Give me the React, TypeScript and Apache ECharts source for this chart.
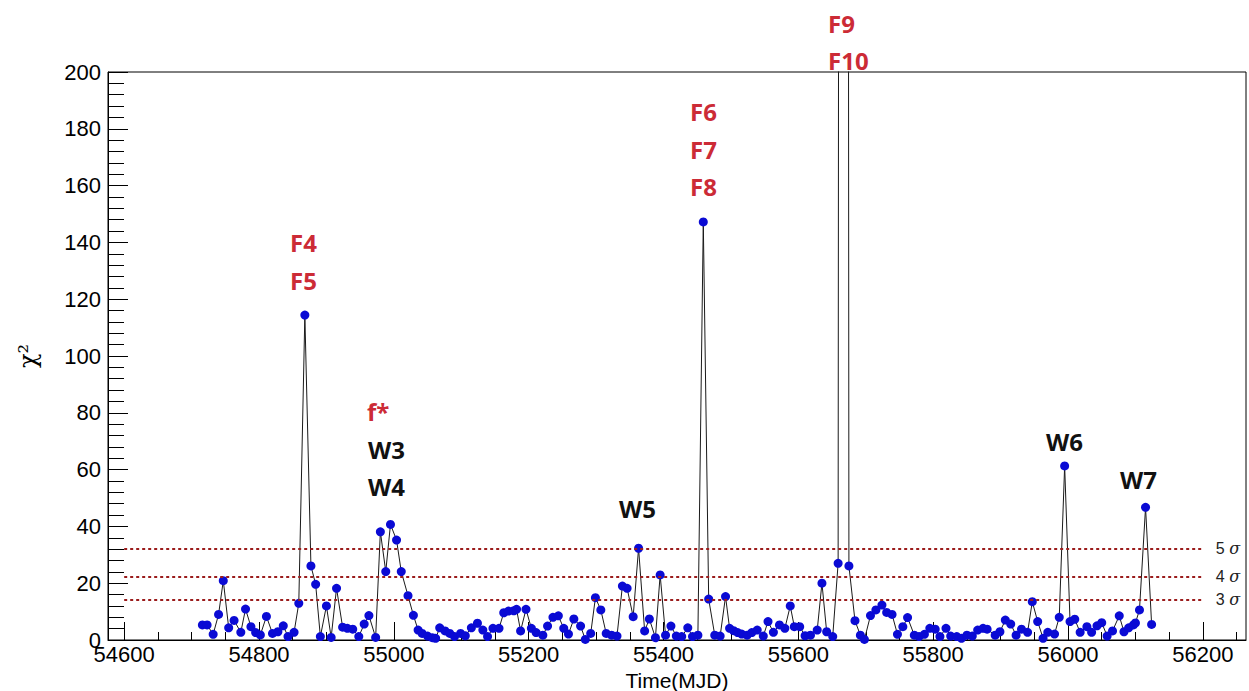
import React, { useEffect, useRef } from "react";
import * as echarts from "echarts";

// Time (MJD) of every point
const mjd = [
  54716, 54723, 54732, 54740, 54747, 54755, 54763, 54773, 54780, 54788,
  54795, 54802, 54811, 54820, 54828, 54836, 54843, 54852, 54859, 54868,
  54877, 54884, 54891, 54900, 54907, 54915, 54924, 54931, 54939, 54948,
  54956, 54963, 54973, 54980, 54988, 54995, 55004, 55011, 55021, 55029,
  55036, 55042, 55050, 55057, 55062, 55068, 55076, 55083, 55090, 55099,
  55106, 55115, 55124, 55132, 55139, 55147, 55156, 55163, 55170, 55178,
  55182, 55188, 55196, 55204, 55211, 55221, 55228, 55236, 55244, 55252,
  55259, 55267, 55277, 55284, 55292, 55299, 55307, 55315, 55323, 55331,
  55339, 55346, 55355, 55363, 55372, 55379, 55388, 55395, 55403, 55411,
  55419, 55427, 55436, 55443, 55451, 55459, 55467, 55476, 55484, 55492,
  55498, 55504, 55510, 55516, 55524, 55531, 55539, 55548, 55555, 55563,
  55572, 55580, 55588, 55594, 55602, 55610, 55618, 55628, 55635, 55642,
  55651, 55659, 55667, 55675, 55684, 55692, 55698, 55707, 55715, 55724,
  55731, 55739, 55747, 55755, 55762, 55772, 55779, 55787, 55795, 55803,
  55810, 55819, 55826, 55835, 55842, 55850, 55858, 55866, 55874, 55880,
  55892, 55899, 55907, 55915, 55923, 55931, 55940, 55947, 55955, 55963,
  55970, 55980, 55987, 55995, 56003, 56010, 56018, 56028, 56035, 56043,
  56050, 56058, 56066, 56076, 56083, 56090, 56097, 56100, 56106, 56115,
  56124,
];

// chi^2 value of every point
const chi2 = [
  5.3, 5.3, 2.0, 9.0, 20.9, 4.3, 6.9, 2.7, 10.9, 4.7,
  2.6, 1.8, 8.3, 2.3, 2.9, 5.0, 1.2, 2.7, 12.9, 114.4,
  26.1, 19.6, 1.2, 12.0, 0.9, 18.2, 4.5, 4.1, 3.8, 1.2,
  5.6, 8.6, 0.9, 38.1, 24.1, 40.7, 35.2, 24.1, 15.6, 8.7,
  3.5, 2.3, 1.4, 0.8, 0.6, 4.3, 3.2, 2.3, 1.2, 2.3,
  1.5, 4.3, 5.9, 3.5, 1.2, 4.1, 4.1, 9.6, 10.2, 10.3,
  10.8, 3.2, 10.8, 4.1, 2.6, 1.7, 4.9, 8.0, 8.5, 4.1,
  2.1, 7.4, 4.9, 0.2, 2.3, 14.9, 10.6, 2.3, 1.7, 1.4,
  19.0, 18.2, 8.2, 32.3, 3.2, 7.4, 0.8, 22.9, 1.7, 4.9,
  1.4, 1.2, 4.3, 1.2, 1.7, 147.2, 14.4, 1.7, 1.4, 15.3,
  4.1, 3.3, 2.6, 2.1, 1.7, 2.6, 3.5, 1.4, 6.5, 2.7,
  5.3, 4.1, 12.0, 4.7, 4.7, 1.5, 1.7, 3.5, 20.0, 2.9,
  1.2, 27.0, 2500, 26.1, 6.8, 1.7, 0.2, 8.6, 10.6, 12.3,
  9.7, 9.0, 2.0, 4.7, 7.9, 1.7, 1.2, 2.0, 4.1, 3.8,
  1.2, 4.1, 1.4, 1.2, 0.6, 1.7, 1.4, 3.5, 4.1, 3.8,
  1.7, 2.9, 7.0, 5.6, 1.7, 3.8, 2.7, 13.5, 6.5, 0.6,
  2.7, 2.1, 8.0, 61.3, 6.5, 7.3, 2.7, 4.7, 2.7, 5.0,
  6.1, 1.4, 3.2, 8.5, 2.9, 4.3, 5.3, 6.0, 10.6, 46.7,
  5.5,
];

// significance thresholds
const sigmaLevels = ["3", "4", "5"];
const sigmaValues = [14.2, 22.2, 32.1];

// x axis tick labels
const xTickLabels = [54600, 54800, 55000, 55200, 55400, 55600, 55800, 56000, 56200];

// flare / window annotations
const annoF4 = ["F4", "F5"];
const annoW3 = ["f*", "W3", "W4"];
const annoF6 = ["F6", "F7", "F8"];
const annoF9 = ["F9", "F10"];

const RED = "#cc2b36";
const BLACK = "#111111";

export default function App() {
  const ref = useRef<HTMLDivElement>(null);

  useEffect(() => {
    if (!ref.current) return;
    const chart = echarts.init(ref.current, undefined, { renderer: "svg" });

    const data = mjd.map((t, i) => [t, chi2[i]]);
    const minorX: number[] = [];
    for (let v = 54600; v <= 56250; v += 50) {
      if (v % 200 !== 0) minorX.push(v);
    }

    const annoFont = {
      fontFamily: "Open Sans",
      fontWeight: "bold" as const,
      fontSize: 24,
    };
    const txt = (text: string, x: number, y: number, color: string) => ({
      type: "text",
      x,
      y,
      z: 100,
      style: {
        text,
        fill: color,
        ...annoFont,
        align: "left",
        verticalAlign: "middle",
      },
    });

    const graphics = [
      txt(annoF4[0], 290, 242, RED),
      txt(annoF4[1], 290, 280, RED),
      txt(annoW3[0], 367, 411, RED),
      txt(annoW3[1], 368, 449, BLACK),
      txt(annoW3[2], 368, 486, BLACK),
      txt("W5", 619, 508, BLACK),
      txt(annoF6[0], 690, 111, RED),
      txt(annoF6[1], 690, 149, RED),
      txt(annoF6[2], 690, 186, RED),
      txt(annoF9[0], 828, 23, RED),
      txt(annoF9[1], 828, 60, RED),
      txt("W6", 1046, 441, BLACK),
      txt("W7", 1120, 479, BLACK),
    ];

    const markLineData = sigmaValues.map((v, i) => [
      { coord: [54600, v] },
      {
        coord: [56200, v],
        label: { formatter: sigmaLevels[i] + " {s|σ}" },
      },
    ]);

    chart.setOption({
      animation: false,
      backgroundColor: "#ffffff",
      grid: {
        left: 108,
        right: 3,
        top: 72,
        bottom: 51,
        containLabel: false,
        outerBoundsMode: "none",
        show: true,
        borderColor: "#000",
        borderWidth: 1,
        backgroundColor: "transparent",
      },
      xAxis: [
        {
          type: "value",
          min: 54576,
          max: 56264,
          name: "Time(MJD)",
          nameLocation: "middle",
          nameGap: 21,
          nameTextStyle: { fontFamily: "Liberation Sans", fontSize: 21, color: "#000" },
          axisLine: { show: true, lineStyle: { color: "#000", width: 1 } },
          axisTick: {
            show: true,
            inside: true,
            length: 18,
            customValues: xTickLabels,
            lineStyle: { color: "#000" },
          },
          axisLabel: {
            show: true,
            customValues: xTickLabels,
            formatter: (v: number) => String(v),
            fontFamily: "Liberation Sans",
            fontSize: 22,
            color: "#000",
            margin: 3,
            showMinLabel: true,
            showMaxLabel: true,
          },
          splitLine: { show: false },
        },
        {
          type: "value",
          min: 54576,
          max: 56264,
          position: "bottom",
          axisLine: { show: false },
          axisTick: {
            show: true,
            inside: true,
            length: 8,
            customValues: minorX,
            lineStyle: { color: "#000" },
          },
          axisLabel: { show: false },
          splitLine: { show: false },
        },
      ],
      yAxis: {
        type: "value",
        min: 0,
        max: 200,
        interval: 20,
        name: "χ²",
        nameLocation: "middle",
        nameGap: 68,
        nameTextStyle: { fontFamily: "DejaVu Serif", fontSize: 24, color: "#000" },
        axisLine: { show: true, lineStyle: { color: "#000", width: 1 } },
        axisTick: { show: true, inside: true, length: 20, lineStyle: { color: "#000" } },
        minorTick: { show: true, splitNumber: 5, length: 16, lineStyle: { color: "#000" } },
        axisLabel: {
          fontFamily: "Liberation Sans",
          fontSize: 22,
          color: "#000",
          margin: 7,
        },
        splitLine: { show: false },
        minorSplitLine: { show: false },
      },
      graphic: graphics,
      series: [
        {
          type: "line",
          xAxisIndex: 0,
          yAxisIndex: 0,
          data,
          clip: true,
          symbol: "circle",
          symbolSize: 9,
          showAllSymbol: true,
          itemStyle: { color: "#0a0ad4", borderWidth: 0 },
          lineStyle: { color: "#1a1a1a", width: 1 },
          z: 3,
          markLine: {
            silent: true,
            symbol: ["none", "none"],
            lineStyle: { color: "#9b1c1c", type: [3, 3], width: 2 },
            label: {
              show: true,
              position: "end",
              distance: 13,
              fontFamily: "Liberation Sans",
              fontSize: 16,
              color: "#222",
              rich: {
                s: { fontFamily: "DejaVu Serif", fontStyle: "italic", fontSize: 16, color: "#222" },
              },
            },
            data: markLineData,
          },
        },
      ],
    });

    return () => chart.dispose();
  }, []);

  return (
    <div
      ref={ref}
      style={{ position: "absolute", left: 0, top: 0, width: 1249, height: 691 }}
    />
  );
}
